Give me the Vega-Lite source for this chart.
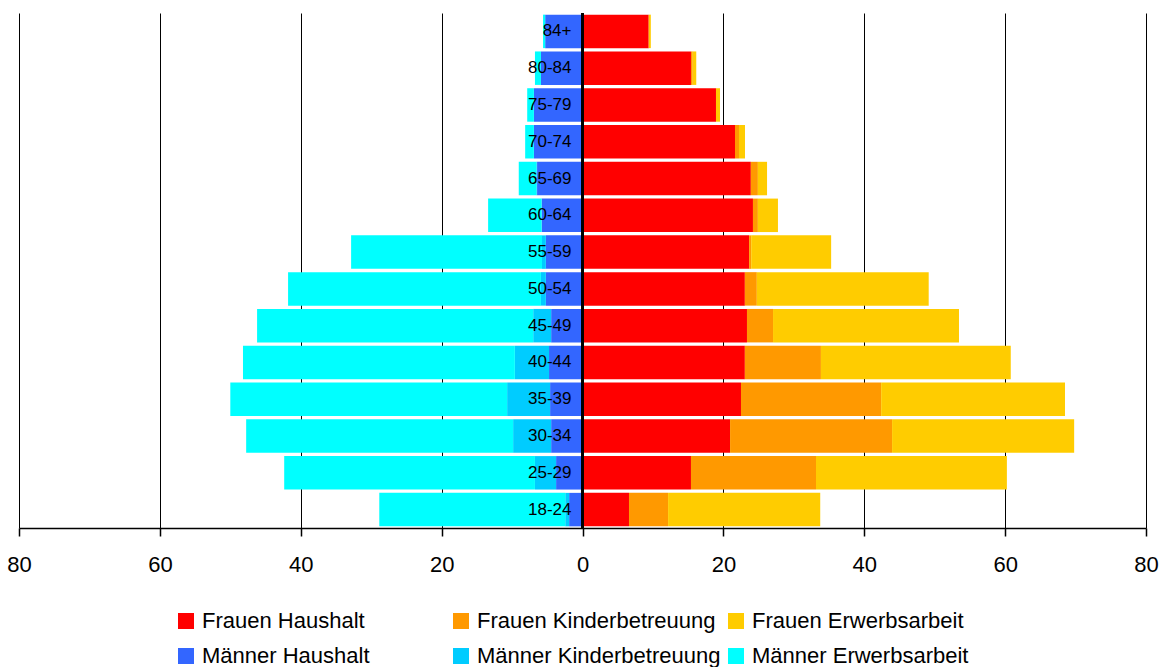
{
  "$schema": "https://vega.github.io/schema/vega-lite/v6.json",
  "width": 1127,
  "height": 515,
  "autosize": {"type": "none"},
  "padding": {"left": 19, "top": 13, "right": 19, "bottom": 139},
  "background": "white",
  "config": {"view": {"stroke": null}, "font": "Liberation Sans"},
  "datasets": {
    "bars": [
      {"age": "84+", "cat": "Männer Haushalt", "v": -5.3}, {"age": "84+", "cat": "Männer Kinderbetreuung", "v": 0}, {"age": "84+", "cat": "Männer Erwerbsarbeit", "v": -0.3},
      {"age": "84+", "cat": "Frauen Haushalt", "v": 9.4}, {"age": "84+", "cat": "Frauen Kinderbetreuung", "v": 0}, {"age": "84+", "cat": "Frauen Erwerbsarbeit", "v": 0.3},
      {"age": "80-84", "cat": "Männer Haushalt", "v": -5.9}, {"age": "80-84", "cat": "Männer Kinderbetreuung", "v": 0}, {"age": "80-84", "cat": "Männer Erwerbsarbeit", "v": -0.85},
      {"age": "80-84", "cat": "Frauen Haushalt", "v": 15.4}, {"age": "80-84", "cat": "Frauen Kinderbetreuung", "v": 0.25}, {"age": "80-84", "cat": "Frauen Erwerbsarbeit", "v": 0.5},
      {"age": "75-79", "cat": "Männer Haushalt", "v": -6.9}, {"age": "75-79", "cat": "Männer Kinderbetreuung", "v": 0}, {"age": "75-79", "cat": "Männer Erwerbsarbeit", "v": -0.95},
      {"age": "75-79", "cat": "Frauen Haushalt", "v": 18.95}, {"age": "75-79", "cat": "Frauen Kinderbetreuung", "v": 0}, {"age": "75-79", "cat": "Frauen Erwerbsarbeit", "v": 0.57},
      {"age": "70-74", "cat": "Männer Haushalt", "v": -6.9}, {"age": "70-74", "cat": "Männer Kinderbetreuung", "v": 0}, {"age": "70-74", "cat": "Männer Erwerbsarbeit", "v": -1.24},
      {"age": "70-74", "cat": "Frauen Haushalt", "v": 21.65}, {"age": "70-74", "cat": "Frauen Kinderbetreuung", "v": 0.57}, {"age": "70-74", "cat": "Frauen Erwerbsarbeit", "v": 0.85},
      {"age": "65-69", "cat": "Männer Haushalt", "v": -6.45}, {"age": "65-69", "cat": "Männer Kinderbetreuung", "v": -0.1}, {"age": "65-69", "cat": "Männer Erwerbsarbeit", "v": -2.5},
      {"age": "65-69", "cat": "Frauen Haushalt", "v": 23.9}, {"age": "65-69", "cat": "Frauen Kinderbetreuung", "v": 1.0}, {"age": "65-69", "cat": "Frauen Erwerbsarbeit", "v": 1.3},
      {"age": "60-64", "cat": "Männer Haushalt", "v": -5.8}, {"age": "60-64", "cat": "Männer Kinderbetreuung", "v": 0}, {"age": "60-64", "cat": "Männer Erwerbsarbeit", "v": -7.6},
      {"age": "60-64", "cat": "Frauen Haushalt", "v": 24.2}, {"age": "60-64", "cat": "Frauen Kinderbetreuung", "v": 0.7}, {"age": "60-64", "cat": "Frauen Erwerbsarbeit", "v": 2.85},
      {"age": "55-59", "cat": "Männer Haushalt", "v": -5.2}, {"age": "55-59", "cat": "Männer Kinderbetreuung", "v": -0.55}, {"age": "55-59", "cat": "Männer Erwerbsarbeit", "v": -27.1},
      {"age": "55-59", "cat": "Frauen Haushalt", "v": 23.65}, {"age": "55-59", "cat": "Frauen Kinderbetreuung", "v": 0.3}, {"age": "55-59", "cat": "Frauen Erwerbsarbeit", "v": 11.35},
      {"age": "50-54", "cat": "Männer Haushalt", "v": -5.2}, {"age": "50-54", "cat": "Männer Kinderbetreuung", "v": -0.7}, {"age": "50-54", "cat": "Männer Erwerbsarbeit", "v": -35.9},
      {"age": "50-54", "cat": "Frauen Haushalt", "v": 23.05}, {"age": "50-54", "cat": "Frauen Kinderbetreuung", "v": 1.7}, {"age": "50-54", "cat": "Frauen Erwerbsarbeit", "v": 24.4},
      {"age": "45-49", "cat": "Männer Haushalt", "v": -4.45}, {"age": "45-49", "cat": "Männer Kinderbetreuung", "v": -2.55}, {"age": "45-49", "cat": "Männer Erwerbsarbeit", "v": -39.2},
      {"age": "45-49", "cat": "Frauen Haushalt", "v": 23.35}, {"age": "45-49", "cat": "Frauen Kinderbetreuung", "v": 3.7}, {"age": "45-49", "cat": "Frauen Erwerbsarbeit", "v": 26.4},
      {"age": "40-44", "cat": "Männer Haushalt", "v": -4.75}, {"age": "40-44", "cat": "Männer Kinderbetreuung", "v": -4.85}, {"age": "40-44", "cat": "Männer Erwerbsarbeit", "v": -38.6},
      {"age": "40-44", "cat": "Frauen Haushalt", "v": 23.05}, {"age": "40-44", "cat": "Frauen Kinderbetreuung", "v": 10.8}, {"age": "40-44", "cat": "Frauen Erwerbsarbeit", "v": 26.95},
      {"age": "35-39", "cat": "Männer Haushalt", "v": -4.6}, {"age": "35-39", "cat": "Männer Kinderbetreuung", "v": -6.1}, {"age": "35-39", "cat": "Männer Erwerbsarbeit", "v": -39.3},
      {"age": "35-39", "cat": "Frauen Haushalt", "v": 22.5}, {"age": "35-39", "cat": "Frauen Kinderbetreuung", "v": 19.9}, {"age": "35-39", "cat": "Frauen Erwerbsarbeit", "v": 26.1},
      {"age": "30-34", "cat": "Männer Haushalt", "v": -4.45}, {"age": "30-34", "cat": "Männer Kinderbetreuung", "v": -5.4}, {"age": "30-34", "cat": "Männer Erwerbsarbeit", "v": -37.9},
      {"age": "30-34", "cat": "Frauen Haushalt", "v": 20.95}, {"age": "30-34", "cat": "Frauen Kinderbetreuung", "v": 23.0}, {"age": "30-34", "cat": "Frauen Erwerbsarbeit", "v": 25.85},
      {"age": "25-29", "cat": "Männer Haushalt", "v": -3.75}, {"age": "25-29", "cat": "Männer Kinderbetreuung", "v": -3.0}, {"age": "25-29", "cat": "Männer Erwerbsarbeit", "v": -35.6},
      {"age": "25-29", "cat": "Frauen Haushalt", "v": 15.4}, {"age": "25-29", "cat": "Frauen Kinderbetreuung", "v": 17.75}, {"age": "25-29", "cat": "Frauen Erwerbsarbeit", "v": 27.1},
      {"age": "18-24", "cat": "Männer Haushalt", "v": -1.9}, {"age": "18-24", "cat": "Männer Kinderbetreuung", "v": -0.55}, {"age": "18-24", "cat": "Männer Erwerbsarbeit", "v": -26.4},
      {"age": "18-24", "cat": "Frauen Haushalt", "v": 6.6}, {"age": "18-24", "cat": "Frauen Kinderbetreuung", "v": 5.55}, {"age": "18-24", "cat": "Frauen Erwerbsarbeit", "v": 21.6}
    ],
    "ages": [
      {"age": "84+"}, {"age": "80-84"}, {"age": "75-79"}, {"age": "70-74"}, {"age": "65-69"}, {"age": "60-64"}, {"age": "55-59"},
      {"age": "50-54"}, {"age": "45-49"}, {"age": "40-44"}, {"age": "35-39"}, {"age": "30-34"}, {"age": "25-29"}, {"age": "18-24"}
    ]
  },
  "encoding": {
    "y": {
      "field": "age", "type": "nominal",
      "sort": ["84+", "80-84", "75-79", "70-74", "65-69", "60-64", "55-59", "50-54", "45-49", "40-44", "35-39", "30-34", "25-29", "18-24"],
      "scale": {"paddingInner": 0.09, "paddingOuter": 0.045},
      "axis": null
    }
  },
  "layer": [
    {
      "data": {"name": "bars"},
      "transform": [
        {"calculate": "indexof(['Haushalt', 'Kinderbetreuung', 'Erwerbsarbeit'], split(datum.cat, ' ')[1])", "as": "stackOrder"}
      ],
      "mark": {"type": "bar"},
      "encoding": {
        "x": {
          "field": "v", "type": "quantitative", "stack": "zero",
          "scale": {"domain": [-80, 80], "nice": false},
          "axis": {
            "values": [-80, -60, -40, -20, 0, 20, 40, 60, 80],
            "labelExpr": "abs(datum.value)",
            "labelFlush": false,
            "labelOverlap": false,
            "title": null,
            "grid": true, "gridColor": "#000000", "gridWidth": 1, "gridOpacity": 1,
            "domainColor": "#000000", "domainWidth": 1.5,
            "tickColor": "#000000", "tickSize": 8, "tickWidth": 1.5,
            "labelFontSize": 22, "labelColor": "#000000", "labelPadding": 18,
            "labelFont": "Liberation Sans"
          }
        },
        "order": {"field": "stackOrder", "type": "quantitative", "sort": "ascending"},
        "color": {
          "field": "cat", "type": "nominal",
          "sort": ["Frauen Haushalt", "Frauen Kinderbetreuung", "Frauen Erwerbsarbeit", "Männer Haushalt", "Männer Kinderbetreuung", "Männer Erwerbsarbeit"],
          "scale": {
            "domain": ["Frauen Haushalt", "Frauen Kinderbetreuung", "Frauen Erwerbsarbeit", "Männer Haushalt", "Männer Kinderbetreuung", "Männer Erwerbsarbeit"],
            "range": ["#FF0000", "#FF9900", "#FFCC00", "#3366FF", "#00CCFF", "#00FFFF"]
          },
          "legend": {
            "title": null, "orient": "none", "legendX": 156, "legendY": 597,
            "direction": "horizontal", "columns": 3, "gridAlign": "all",
            "columnPadding": 4, "rowPadding": 13,
            "symbolType": "square", "symbolSize": 256, "symbolStrokeWidth": 0, "symbolOpacity": 1,
            "labelFontSize": 22, "labelColor": "#000000", "labelOffset": 5, "labelLimit": 400,
            "labelFont": "Liberation Sans"
          }
        }
      }
    },
    {
      "data": {"name": "ages"},
      "mark": {"type": "rule", "color": "#000000", "strokeWidth": 1.5},
      "encoding": {"x": {"datum": 0}, "y": null}
    },
    {
      "data": {"name": "ages"},
      "mark": {"type": "text", "align": "right", "baseline": "middle", "dx": -11, "fontSize": 17, "font": "Liberation Sans", "color": "#000000"},
      "encoding": {"x": {"datum": 0}, "text": {"field": "age"}}
    }
  ]
}
